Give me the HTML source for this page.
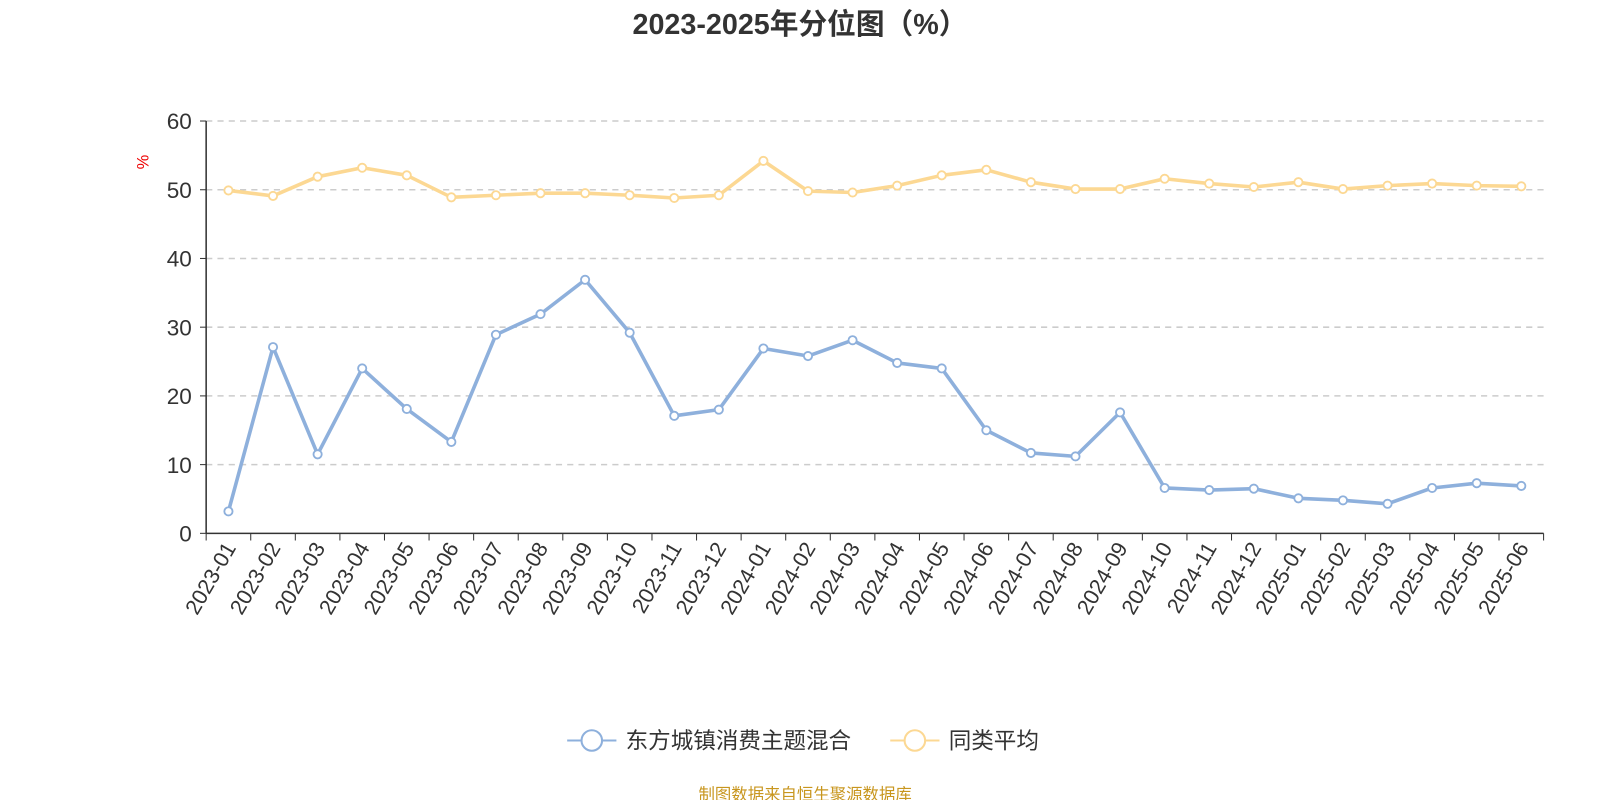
<!DOCTYPE html>
<html><head><meta charset="utf-8"><style>
body{margin:0;background:#fff;width:1600px;height:800px;overflow:hidden;font-family:"Liberation Sans","Noto Sans CJK SC",sans-serif}
</style></head><body>
<svg id="chart" width="1600" height="800" viewBox="0 0 1560 780" xmlns="http://www.w3.org/2000/svg" font-family="Liberation Sans, Noto Sans CJK SC, sans-serif">
<text x="780" y="33" text-anchor="middle" font-size="28" font-weight="bold" fill="#333">2023-2025年分位图（%）</text>
<text x="145" y="158" text-anchor="middle" font-size="16" fill="#e00" transform="rotate(-90 145 158)">%</text>
<g id="grid"></g><g id="axes"></g><g id="series"></g>
<g>
<g>
<line x1="553" y1="722" x2="601" y2="722" stroke="#8eb0dc" stroke-width="2"/><circle cx="577" cy="722" r="10" fill="#fff" stroke="#8eb0dc" stroke-width="2"/>
<text x="610" y="730" font-size="22" fill="#333">东方城镇消费主题混合</text></g>
<g>
<line x1="868" y1="722" x2="916" y2="722" stroke="#fcd893" stroke-width="2"/><circle cx="892" cy="722" r="10" fill="#fff" stroke="#fcd893" stroke-width="2"/>
<text x="925" y="730" font-size="22" fill="#333">同类平均</text></g></g>
<text x="785" y="780" text-anchor="middle" font-size="16" fill="#c8961e">制图数据来自恒生聚源数据库</text>
</svg>
<script>
const categories=["2023-01","2023-02","2023-03","2023-04","2023-05","2023-06","2023-07","2023-08","2023-09","2023-10","2023-11","2023-12","2024-01","2024-02","2024-03","2024-04","2024-05","2024-06","2024-07","2024-08","2024-09","2024-10","2024-11","2024-12","2025-01","2025-02","2025-03","2025-04","2025-05","2025-06"];
const fundValues=[3.2,27.1,11.5,24,18.1,13.3,28.9,31.9,36.9,29.2,17.1,18,26.9,25.8,28.1,24.8,24,15,11.7,11.2,17.6,6.6,6.3,6.5,5.1,4.8,4.3,6.6,7.3,6.9];
const avgValues=[49.9,49.1,51.9,53.2,52.1,48.9,49.2,49.5,49.5,49.2,48.8,49.2,54.2,49.8,49.6,50.6,52.1,52.9,51.1,50.1,50.1,51.6,50.9,50.4,51.1,50.1,50.6,50.9,50.6,50.5];
const yTicks=[0,10,20,30,40,50,60];
const NS="http://www.w3.org/2000/svg";
const L=201,R=1505,T=118,B=520,yMax=60;
const bw=(R-L)/categories.length;
const x=i=>L+bw*(i+0.5);
const y=v=>B-(v/yMax)*(B-T);
function mk(tag,attrs,parent){const e=document.createElementNS(NS,tag);for(const k in attrs)e.setAttribute(k,attrs[k]);parent.appendChild(e);return e;}
const grid=document.getElementById('grid'),axes=document.getElementById('axes'),series=document.getElementById('series');
yTicks.forEach(t=>{
 if(t>0){const g=mk('line',{x1:L,x2:R,y1:y(t),y2:y(t),stroke:'#ccc','stroke-dasharray':'6,5','stroke-width':1.5},grid);
 
 }
 const tl=mk('text',{x:L-14,y:y(t)+8,'text-anchor':'end','font-size':22,fill:'#333'},axes);tl.textContent=t;
 
 
 mk('line',{x1:L-6,x2:L,y1:y(t),y2:y(t),stroke:'#333'},axes);
});
const ya=mk('line',{x1:L,x2:L,y1:T,y2:B,stroke:'#333','stroke-width':1.5},axes);


const xa=mk('line',{x1:L,x2:R,y1:B,y2:B,stroke:'#333','stroke-width':1.5},axes);


for(let i=0;i<=categories.length;i++)mk('line',{x1:L+bw*i,x2:L+bw*i,y1:B,y2:B+7,stroke:'#333'},axes);
categories.forEach((c,i)=>{
 const t=mk('text',{x:x(i)+8,y:B+14,'text-anchor':'end','font-size':21,fill:'#333',transform:`rotate(-60 ${x(i)+8} ${B+14})`},axes);
 t.textContent=c;
 
 
});
function draw(vals,color,name){
 const p=mk('polyline',{points:vals.map((v,i)=>x(i)+','+y(v)).join(' '),fill:'none',stroke:color,'stroke-width':3.5,'stroke-linejoin':'round'},series);
 
 
 vals.forEach((v,i)=>{const c=mk('circle',{cx:x(i),cy:y(v),r:4,fill:'#fff',stroke:color,'stroke-width':1.8},series);
 
 });
}
draw(avgValues,'#fcd893','average');
draw(fundValues,'#8eb0dc','fund');
</script>
</body></html>
